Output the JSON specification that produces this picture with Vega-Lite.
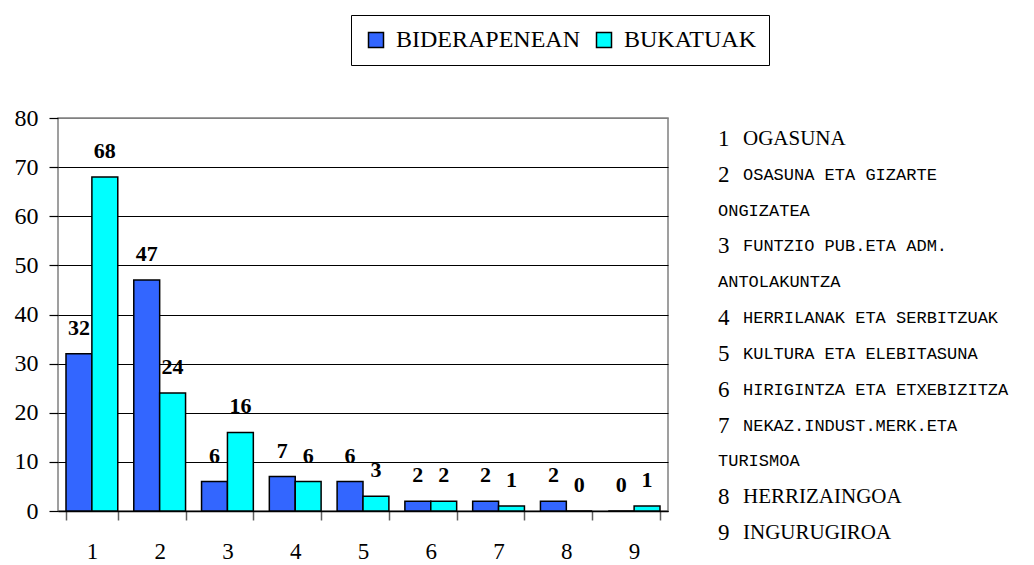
{
  "$schema": "https://vega.github.io/schema/vega-lite/v6.json",
  "background": "white",
  "padding": {"left": 13, "top": 14, "right": 0, "bottom": 0},
  "bounds": "flush",
  "spacing": 50,
  "config": {"font": "Liberation Serif", "view": {"stroke": null}},
  "datasets": {
    "bars": [
      {"cat": 1, "series": "BIDERAPENEAN", "value": 32},
      {"cat": 1, "series": "BUKATUAK", "value": 68},
      {"cat": 2, "series": "BIDERAPENEAN", "value": 47},
      {"cat": 2, "series": "BUKATUAK", "value": 24},
      {"cat": 3, "series": "BIDERAPENEAN", "value": 6},
      {"cat": 3, "series": "BUKATUAK", "value": 16},
      {"cat": 4, "series": "BIDERAPENEAN", "value": 7},
      {"cat": 4, "series": "BUKATUAK", "value": 6},
      {"cat": 5, "series": "BIDERAPENEAN", "value": 6},
      {"cat": 5, "series": "BUKATUAK", "value": 3},
      {"cat": 6, "series": "BIDERAPENEAN", "value": 2},
      {"cat": 6, "series": "BUKATUAK", "value": 2},
      {"cat": 7, "series": "BIDERAPENEAN", "value": 2},
      {"cat": 7, "series": "BUKATUAK", "value": 1},
      {"cat": 8, "series": "BIDERAPENEAN", "value": 2},
      {"cat": 8, "series": "BUKATUAK", "value": 0},
      {"cat": 9, "series": "BIDERAPENEAN", "value": 0},
      {"cat": 9, "series": "BUKATUAK", "value": 1}
    ],
    "key": [
      {"line": 1, "col": "n", "txt": "1"},
      {"line": 1, "col": "t", "txt": "OGASUNA"},
      {"line": 2, "col": "n", "txt": "2"},
      {"line": 2, "col": "t", "txt": "OSASUNA ETA GIZARTE"},
      {"line": 3, "col": "n", "txt": "ONGIZATEA"},
      {"line": 4, "col": "n", "txt": "3"},
      {"line": 4, "col": "t", "txt": "FUNTZIO PUB.ETA ADM."},
      {"line": 5, "col": "n", "txt": "ANTOLAKUNTZA"},
      {"line": 6, "col": "n", "txt": "4"},
      {"line": 6, "col": "t", "txt": "HERRILANAK ETA SERBITZUAK"},
      {"line": 7, "col": "n", "txt": "5"},
      {"line": 7, "col": "t", "txt": "KULTURA ETA ELEBITASUNA"},
      {"line": 8, "col": "n", "txt": "6"},
      {"line": 8, "col": "t", "txt": "HIRIGINTZA ETA ETXEBIZITZA"},
      {"line": 9, "col": "n", "txt": "7"},
      {"line": 9, "col": "t", "txt": "NEKAZ.INDUST.MERK.ETA"},
      {"line": 10, "col": "n", "txt": "TURISMOA"},
      {"line": 11, "col": "n", "txt": "8"},
      {"line": 11, "col": "t", "txt": "HERRIZAINGOA"},
      {"line": 12, "col": "n", "txt": "9"},
      {"line": 12, "col": "t", "txt": "INGURUGIROA"}
    ]
  },
  "hconcat": [
    {
      "width": 610,
      "height": 393,
      "data": {"name": "bars"},
      "view": {"stroke": "#808080", "strokeWidth": 1.5},
      "encoding": {
        "x": {
          "field": "cat", "type": "ordinal",
          "scale": {"paddingInner": 0.236, "paddingOuter": 0.118},
          "axis": {
            "title": null, "labelAngle": 0, "tickBand": "extent", "tickSize": 9,
            "tickColor": "#606060", "tickWidth": 1.5, "domainColor": "black", "domainWidth": 1.5,
            "labelFont": "Liberation Serif", "labelFontSize": 23, "labelPadding": 20,
            "labelColor": "black", "grid": false
          }
        },
        "xOffset": {"field": "series", "type": "nominal", "sort": ["BIDERAPENEAN", "BUKATUAK"], "scale": {"paddingInner": 0}},
        "y": {
          "field": "value", "type": "quantitative",
          "scale": {"domain": [0, 80], "nice": false},
          "axis": {
            "title": null, "values": [0, 10, 20, 30, 40, 50, 60, 70, 80],
            "tickSize": 9, "tickColor": "black", "tickWidth": 1.2, "domain": false,
            "grid": true,
            "gridColor": {"condition": {"test": "datum.value === 80", "value": "#808080"}, "value": "black"},
            "gridWidth": 1.2, "gridOpacity": 1,
            "labelFont": "Liberation Serif", "labelFontSize": 24, "labelPadding": 11, "labelColor": "black"
          }
        }
      },
      "layer": [
        {
          "mark": {"type": "bar", "stroke": "black", "strokeWidth": 1.5},
          "encoding": {
            "color": {
              "field": "series", "type": "nominal",
              "scale": {"domain": ["BIDERAPENEAN", "BUKATUAK"], "range": ["#3366FF", "#00FFFF"]},
              "legend": {
                "title": null, "orient": "none", "legendX": 293, "legendY": -103,
                "direction": "horizontal", "strokeColor": "black", "fillColor": "white",
                "padding": 13, "symbolType": "square", "symbolSize": 225,
                "symbolStrokeColor": "black", "symbolStrokeWidth": 1.5, "symbolOpacity": 1,
                "labelFont": "Liberation Serif", "labelFontSize": 24, "labelColor": "black",
                "labelLimit": 400, "labelOffset": 8, "columnPadding": 12
              }
            }
          }
        },
        {
          "mark": {"type": "text", "dy": -26, "fontWeight": "bold", "fontSize": 22, "baseline": "middle", "font": "Liberation Serif", "color": "black"},
          "encoding": {"text": {"field": "value", "type": "quantitative"}}
        }
      ]
    },
    {
      "width": 25,
      "height": 436,
      "data": {"name": "key"},
      "encoding": {
        "x": {"field": "col", "type": "nominal", "scale": {"type": "point", "domain": ["n", "t"], "padding": 0}, "axis": null},
        "y": {"field": "line", "type": "ordinal", "scale": {"type": "point", "padding": 0.587}, "axis": null},
        "text": {"field": "txt", "type": "nominal"}
      },
      "layer": [
        {
          "transform": [{"filter": "test(/^[0-9]$/, datum.txt)"}],
          "mark": {"type": "text", "align": "left", "baseline": "middle", "font": "Liberation Serif", "fontSize": 23, "color": "black"}
        },
        {
          "transform": [{"filter": "indexof(['OGASUNA','HERRIZAINGOA','INGURUGIROA'], datum.txt) >= 0"}],
          "mark": {"type": "text", "align": "left", "baseline": "middle", "font": "Liberation Serif", "fontSize": 21, "color": "black"}
        },
        {
          "transform": [{"filter": "!(test(/^[0-9]$/, datum.txt) || indexof(['OGASUNA','HERRIZAINGOA','INGURUGIROA'], datum.txt) >= 0)"}],
          "mark": {"type": "text", "align": "left", "baseline": "middle", "font": "Liberation Mono", "fontSize": 17, "color": "black"}
        }
      ]
    }
  ]
}
